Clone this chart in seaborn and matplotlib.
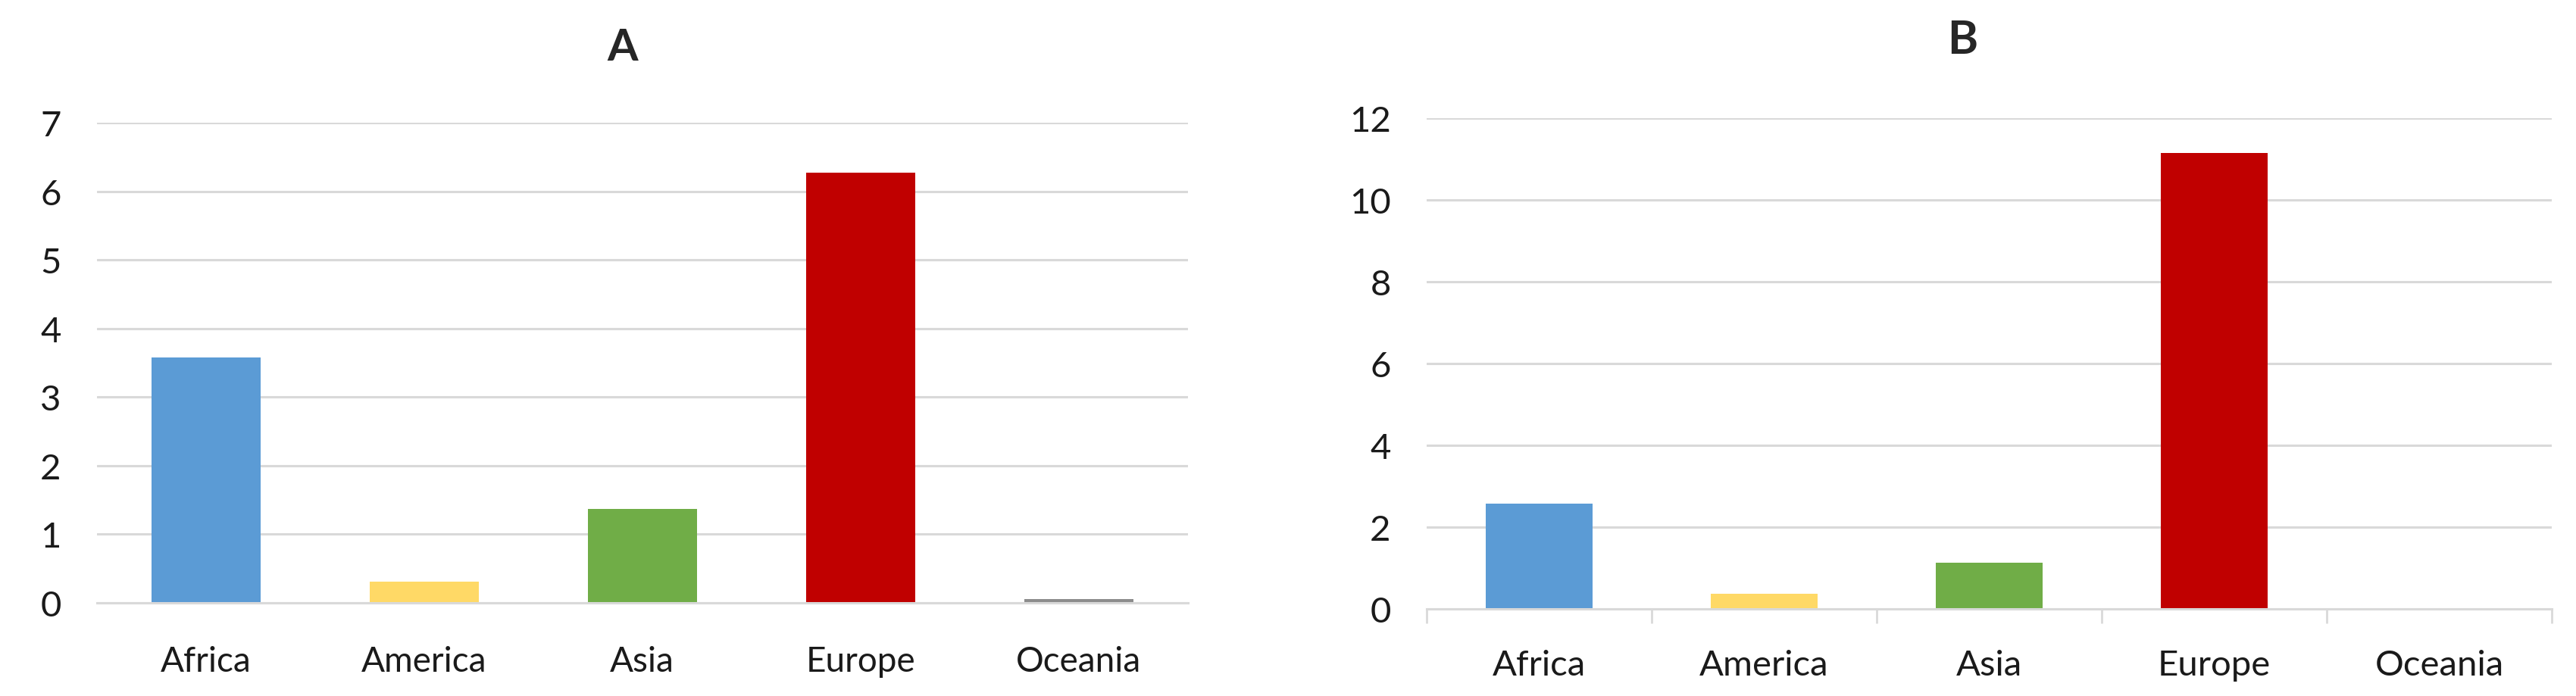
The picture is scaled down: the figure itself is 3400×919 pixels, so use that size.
import matplotlib
matplotlib.use("Agg")
import matplotlib.pyplot as plt
import seaborn as sns
import pandas as pd

# data
regions = ['Africa', 'America', 'Asia', 'Europe', 'Oceania']
values_a = [3.58, 0.31, 1.37, 6.27, 0.05]
values_b = [2.58, 0.37, 1.13, 11.15, 0.0]
bar_colors = ['#5B9BD5', '#FFD966', '#70AD47', '#C00000', '#8C8C8C']
yticks_a = [0, 1, 2, 3, 4, 5, 6, 7]
yticks_b = [0, 2, 4, 6, 8, 10, 12]

sns.set_theme(style='white')
plt.rcParams['font.family'] = ['Lato', 'DejaVu Sans']

fig = plt.figure(figsize=(34, 9.2), dpi=100)
ax_a = fig.add_axes([0.0376, 0.1337, 0.4235, 0.689])
ax_b = fig.add_axes([0.5538, 0.125, 0.4368, 0.7043])

palette = dict(zip(regions, bar_colors))


def draw_panel(ax, values, yticks, width, excel_ticks):
    df = pd.DataFrame({'region': regions, 'value': values})
    sns.barplot(data=df, x='region', y='value', hue='region', palette=palette,
                width=width, legend=False, saturation=1, linewidth=0, ax=ax)
    ax.set_xlim(-0.5, len(regions) - 0.5)
    ax.set_ylim(0, yticks[-1])
    ax.set_yticks(yticks)
    ax.set_axisbelow(True)
    ax.yaxis.grid(True, color='#D9D9D9', linewidth=2.2)
    ax.xaxis.grid(False)
    for s in ['top', 'right', 'left']:
        ax.spines[s].set_visible(False)
    ax.spines['bottom'].set_color('#D9D9D9')
    ax.spines['bottom'].set_linewidth(2.2)
    ax.set_xlabel('')
    ax.set_ylabel('')
    ax.tick_params(axis='y', length=0, pad=34, labelsize=34, labelcolor='#1a1a1a')
    if excel_ticks:
        ax.set_xticks([i - 0.5 for i in range(len(regions) + 1)], minor=True)
        ax.tick_params(axis='x', which='minor', length=14, width=2, color='#D9D9D9',
                       direction='out', bottom=True)
        ax.tick_params(axis='x', which='major', length=0, pad=38, labelsize=34,
                       labelcolor='#1a1a1a')
    else:
        ax.tick_params(axis='x', length=0, pad=40, labelsize=33, labelcolor='#1a1a1a')


draw_panel(ax_a, values_a, yticks_a, 0.5, False)
draw_panel(ax_b, values_b, yticks_b, 0.475, True)

fig.text(0.2415, 0.9315, 'A', ha='center', va='center', fontsize=42, fontweight='bold')
fig.text(0.7618, 0.942, 'B', ha='center', va='center', fontsize=44, fontweight='bold')

fig.savefig('out.png', dpi=100, facecolor='white')
